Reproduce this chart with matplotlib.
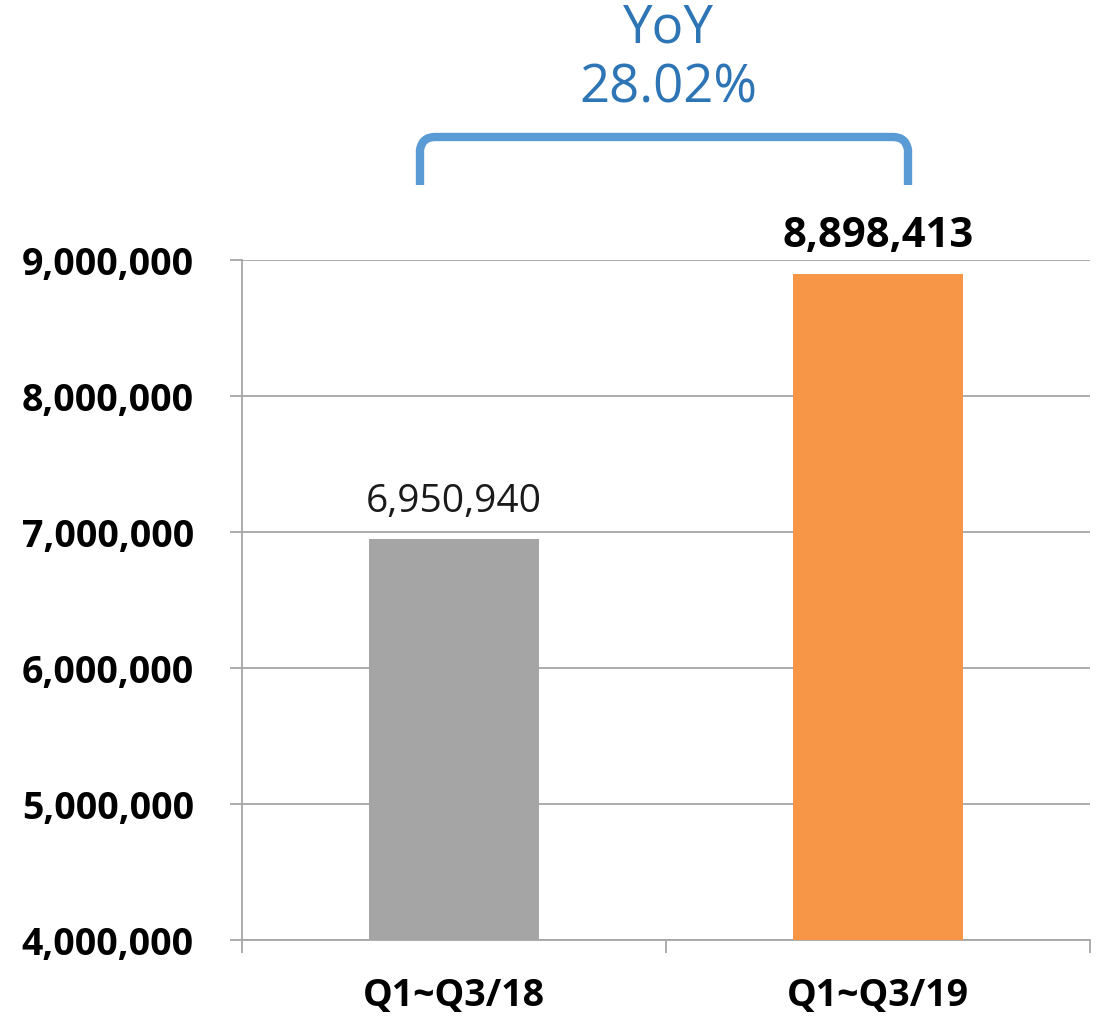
import matplotlib.pyplot as plt
from matplotlib.path import Path
from matplotlib.patches import PathPatch
from matplotlib.ticker import FuncFormatter

categories = ["Q1~Q3/18", "Q1~Q3/19"]
values = [6950940, 8898413]
bar_colors = ["#A5A5A5", "#F79646"]
yoy_label = "YoY"
yoy_value = "28.02%"

plt.rcParams['font.family'] = ['Open Sans', 'DejaVu Sans']

fig = plt.figure(figsize=(11.07, 10.19), dpi=100)
ax = fig.add_axes([242 / 1107, 79 / 1019, 848 / 1107, 680 / 1019])

x = list(range(len(categories)))
ax.bar(x, values, width=0.4, color=bar_colors, zorder=3)

ax.set_xlim(-0.5, 1.5)
ax.set_ylim(4000000, 9000000)
ax.set_yticks(range(4000000, 9000001, 1000000))
ax.yaxis.set_major_formatter(FuncFormatter(lambda v, p: f"{int(v):,}"))
ax.grid(axis='y', color='#A6A6A6', linewidth=1.3, zorder=0)

ax.set_xticks(x)
ax.set_xticklabels(categories)
ax.set_xticks([-0.5, 0.5, 1.5], minor=True)
ax.tick_params(axis='x', which='major', length=0, pad=27, labelsize=27)
ax.tick_params(axis='x', which='minor', length=13 / 1.389, width=1.3, color='#A6A6A6')
ax.tick_params(axis='y', length=12 / 1.389, width=1.3, color='#A6A6A6', pad=26, labelsize=27)
for lab in ax.get_xticklabels() + ax.get_yticklabels():
    lab.set_fontweight('bold')

for s in ['top', 'right']:
    ax.spines[s].set_visible(False)
for s in ['left', 'bottom']:
    ax.spines[s].set_color('#A6A6A6')
    ax.spines[s].set_linewidth(1.3)

# value labels
ax.annotate(f"{values[0]:,}", (x[0], values[0]), xytext=(0, 19.5), textcoords='offset points',
            ha='center', va='baseline', fontsize=28, color='#1a1a1a')
ax.annotate(f"{values[1]:,}", (x[1], values[1]), xytext=(0, 19.5), textcoords='offset points',
            ha='center', va='baseline', fontsize=30, fontweight='bold', color='black')

# YoY bracket
W, H = 1107, 1019
def fc(px, py):
    return (px / W, 1 - py / H)

verts = [fc(420, 185), fc(420, 150), fc(422, 137), fc(435, 137),
         fc(893, 137), fc(906, 137), fc(908, 150), fc(908, 185)]
codes = [Path.MOVETO, Path.LINETO, Path.CURVE3, Path.CURVE3,
         Path.LINETO, Path.CURVE3, Path.CURVE3, Path.LINETO]
bracket = PathPatch(Path(verts, codes), transform=fig.transFigure, fill=False,
                    edgecolor='#5B9BD5', linewidth=6, capstyle='butt', joinstyle='round')
fig.patches.append(bracket)

fig.text(668 / W, 1 - 29 / H, yoy_label, ha='center', va='center', fontsize=38,
         color='#2E75B6')
fig.text(668 / W, 1 - 89 / H, yoy_value, ha='center', va='center', fontsize=38,
         color='#2E75B6')

fig.savefig("out.png", dpi=100)
